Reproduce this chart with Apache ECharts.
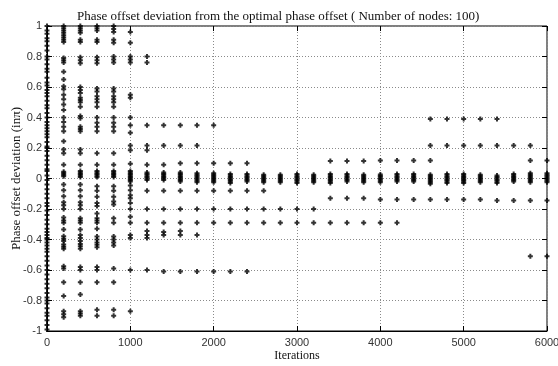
<!DOCTYPE html>
<html>
<head>
<meta charset="utf-8">
<script src="https://cdn.jsdelivr.net/npm/echarts@6/dist/echarts.min.js"></script>
<style>html,body{margin:0;padding:0;background:#fff}#c{width:558px;height:366px}</style>
</head>
<body>
<div id="c"></div>
<script>
const titleText = 'Phase offset deviation from the optimal phase offset ( Number of nodes: 100)';
const xName = 'Iterations';
const yName = 'Phase offset deviation (inπ)';
const xTicks = [0, 1000, 2000, 3000, 4000, 5000, 6000];
const yTicks = [-1, -0.8, -0.6, -0.4, -0.2, 0, 0.2, 0.4, 0.6, 0.8, 1];

const iterations = [0, 200, 400, 600, 800, 1000, 1200, 1400, 1600, 1800, 2000, 2200, 2400, 2600, 2800, 3000,
  3200, 3400, 3600, 3800, 4000, 4200, 4400, 4600, 4800, 5000, 5200, 5400, 5600, 5800, 6000];

const dev0 = [1, 0.97, 0.95, 0.92, 0.9, 0.87, 0.84, 0.8, 0.78, 0.75, 0.72, 0.7, 0.66, 0.63, 0.61, 0.58, 0.56, 0.54, 0.51,
  0.48, 0.46, 0.43, 0.4, 0.37, 0.35, 0.33, 0.31, 0.29, 0.27, 0.24, 0.21, 0.2, 0.18, 0.15, 0.12, 0.09, 0.06, 0.05, 0.02,
  -0.01, -0.04, -0.07, -0.1, -0.13, -0.16, -0.18, -0.21, -0.24, -0.27, -0.3, -0.33, -0.35, -0.37, -0.39, -0.4, -0.42,
  -0.44, -0.46, -0.48, -0.51, -0.54, -0.57, -0.6, -0.63, -0.66, -0.69, -0.72, -0.75, -0.78, -0.8, -0.82, -0.85, -0.88,
  -0.9, -0.93, -0.96, -0.99];
const dev200 = [1, 0.985, 0.97, 0.955, 0.94, 0.925, 0.91, 0.895, 0.79, 0.775, 0.76, 0.7, 0.65, 0.605, 0.585, 0.55, 0.52,
  0.485, 0.45, 0.4, 0.37, 0.34, 0.31, 0.245, 0.19, 0.165, 0.09, 0.045, 0.035, 0.025, 0.015, -0.04, -0.077, -0.116, -0.155,
  -0.175, -0.2, -0.256, -0.275, -0.29, -0.334, -0.378, -0.395, -0.41, -0.433, -0.447, -0.46, -0.575, -0.59, -0.68, -0.77,
  -0.87, -0.89, -0.91];
const dev400 = [1, 0.985, 0.97, 0.955, 0.91, 0.895, 0.795, 0.775, 0.755, 0.6, 0.58, 0.56, 0.53, 0.515, 0.5, 0.47, 0.41,
  0.395, 0.34, 0.325, 0.31, 0.19, 0.165, 0.09, 0.05, 0.04, 0.03, 0.02, 0.01, -0.04, -0.077, -0.116, -0.155, -0.175, -0.2,
  -0.26, -0.275, -0.29, -0.334, -0.37, -0.39, -0.41, -0.43, -0.445, -0.46, -0.58, -0.6, -0.68, -0.76, -0.87, -0.885, -0.9];
const dev600 = [1, 0.985, 0.97, 0.91, 0.895, 0.795, 0.775, 0.755, 0.59, 0.57, 0.54, 0.52, 0.5, 0.47, 0.4, 0.365, 0.34,
  0.31, 0.165, 0.09, 0.05, 0.04, 0.03, 0.02, 0.01, -0.05, -0.08, -0.12, -0.16, -0.18, -0.23, -0.26, -0.275, -0.29, -0.33,
  -0.38, -0.4, -0.42, -0.435, -0.45, -0.58, -0.6, -0.68, -0.86, -0.9];
const dev800 = [1, 0.98, 0.96, 0.91, 0.89, 0.8, 0.78, 0.76, 0.59, 0.57, 0.54, 0.52, 0.5, 0.47, 0.4, 0.365, 0.34, 0.31,
  0.165, 0.09, 0.05, 0.04, 0.03, 0.02, 0.01, -0.05, -0.08, -0.12, -0.15, -0.17, -0.26, -0.29, -0.38, -0.4, -0.42, -0.44,
  -0.59, -0.68, -0.86, -0.9];
const dev1000 = [0.96, 0.89, 0.8, 0.78, 0.76, 0.55, 0.53, 0.4, 0.35, 0.3, 0.216, 0.186, 0.096, 0.05, 0.04, 0.03, 0.02,
  0.01, 0, -0.01, -0.02, -0.046, -0.077, -0.11, -0.13, -0.16, -0.2, -0.25, -0.29, -0.37, -0.39, -0.6, -0.87];
const dev1200 = [0.8, 0.76, 0.35, 0.216, 0.186, 0.09, 0.04, 0.03, 0.02, 0.01, 0, -0.01, -0.08, -0.2, -0.29, -0.345,
  -0.37, -0.39, -0.6];
const dev1400 = [0.35, 0.216, 0.09, 0.04, 0.03, 0.02, 0.01, 0, -0.01, -0.08, -0.2, -0.29, -0.35, -0.37, -0.61];
const dev1600 = [0.35, 0.216, 0.1, 0.04, 0.03, 0.02, 0.01, 0, -0.01, -0.02, -0.08, -0.2, -0.29, -0.345, -0.37, -0.61];
const dev1800 = [0.35, 0.216, 0.1, 0.035, 0.025, 0.015, 0.005, -0.005, -0.015, -0.025, -0.08, -0.2, -0.29, -0.37, -0.61];
const dev2000 = [0.35, 0.1, 0.035, 0.025, 0.015, 0.005, -0.005, -0.015, -0.025, -0.08, -0.2, -0.29, -0.61];
const dev2200 = [0.1, 0.03, 0.02, 0.01, 0, -0.01, -0.02, -0.03, -0.08, -0.2, -0.29, -0.61];
const dev2400 = [0.1, 0.03, 0.02, 0.01, 0, -0.01, -0.02, -0.08, -0.2, -0.29, -0.61];
const dev2600 = [0.025, 0.015, 0.005, -0.005, -0.015, -0.025, -0.08, -0.2, -0.29];
const dev2800 = [0.025, 0.015, 0.005, -0.005, -0.015, -0.025, -0.2, -0.29];
const dev3000 = [0.03, 0.02, 0.01, 0, -0.01, -0.02, -0.03, -0.2, -0.29];
const dev3200 = [0.025, 0.015, 0.005, -0.005, -0.015, -0.025, -0.2, -0.29];
const dev3400 = [0.115, 0.03, 0.02, 0.01, 0, -0.01, -0.02, -0.03, -0.13, -0.29];
const dev3600 = [0.115, 0.03, 0.02, 0.01, 0, -0.01, -0.02, -0.13, -0.29];
const dev3800 = [0.115, 0.025, 0.015, 0.005, -0.005, -0.015, -0.025, -0.13, -0.29];
const dev4000 = [0.118, 0.026, 0.016, 0.006, -0.004, -0.014, -0.024, -0.138, -0.29];
const dev4200 = [0.118, 0.03, 0.02, 0.01, 0, -0.01, -0.02, -0.138, -0.29];
const dev4400 = [0.118, 0.03, 0.02, 0.01, 0, -0.01, -0.02, -0.138];
const dev4600 = [0.39, 0.216, 0.118, 0.025, 0.015, 0.005, -0.005, -0.015, -0.025, -0.035, -0.138];
const dev4800 = [0.39, 0.216, 0.03, 0.02, 0.01, 0, -0.01, -0.02, -0.03, -0.138];
const dev5000 = [0.39, 0.216, 0.03, 0.02, 0.01, 0, -0.01, -0.02, -0.03, -0.138];
const dev5200 = [0.39, 0.216, 0.025, 0.015, 0.005, -0.005, -0.015, -0.025, -0.138];
const dev5400 = [0.39, 0.216, 0.02, 0.01, 0, -0.01, -0.02, -0.03, -0.145];
const dev5600 = [0.216, 0.03, 0.02, 0.01, 0, -0.01, -0.02, -0.145];
const dev5800 = [0.216, 0.118, 0.035, 0.025, 0.015, 0.005, -0.005, -0.015, -0.025, -0.145, -0.51];
const dev6000 = [0.118, 0.035, 0.025, 0.015, 0.005, -0.005, -0.015, -0.025, -0.145, -0.51];

const deviations = [dev0, dev200, dev400, dev600, dev800, dev1000, dev1200, dev1400, dev1600, dev1800, dev2000,
  dev2200, dev2400, dev2600, dev2800, dev3000, dev3200, dev3400, dev3600, dev3800, dev4000, dev4200, dev4400,
  dev4600, dev4800, dev5000, dev5200, dev5400, dev5600, dev5800, dev6000];

const points = [];
iterations.forEach((it, i) => deviations[i].forEach(v => points.push([it, v])));

const chart = echarts.init(document.getElementById('c'), null, {renderer: 'canvas'});
const sans = 'Liberation Sans';
const serif = 'Liberation Serif';
const gridLine = {show: true, lineStyle: {color: '#8a8a8a', width: 1, type: [1, 2]}};
const baseLabel = {color: '#333', fontFamily: sans, fontSize: 11};

chart.setOption({
  animation: false,
  backgroundColor: '#fff',
  title: {
    text: titleText, left: 72, top: 5,
    textStyle: {fontFamily: serif, fontWeight: 'normal', fontSize: 13, color: '#111'}
  },
  grid: {left: 47, right: 11, top: 26, bottom: 35, containLabel: false, outerBoundsMode: 'none',
    show: true, borderColor: '#000', borderWidth: 1, backgroundColor: 'transparent'},
  xAxis: [{
    type: 'value', min: xTicks[0], max: xTicks[xTicks.length - 1], interval: 1000,
    name: xName, nameLocation: 'middle', nameGap: 19, nameMoveOverlap: false,
    nameTextStyle: {fontFamily: serif, fontSize: 12, color: '#111'},
    axisLine: {show: true, onZero: false, lineStyle: {color: '#000'}},
    axisTick: {show: true, inside: true, length: 5, lineStyle: {color: '#000'}},
    axisLabel: Object.assign({margin: 6, formatter: v => String(v)}, baseLabel),
    splitLine: gridLine
  }, {
    type: 'value', position: 'top', min: 0, max: 6000, interval: 1000,
    axisLine: {show: false, onZero: false}, axisLabel: {show: false}, splitLine: {show: false},
    axisTick: {show: true, inside: true, length: 5, lineStyle: {color: '#000'}}
  }],
  yAxis: [{
    type: 'value', min: yTicks[0], max: yTicks[yTicks.length - 1], interval: 0.2,
    name: yName, nameLocation: 'middle', nameGap: 24, nameRotate: 90, nameMoveOverlap: false,
    nameTextStyle: {fontFamily: serif, fontSize: 13, color: '#111'},
    axisLine: {show: true, onZero: false, lineStyle: {color: '#000'}},
    axisTick: {show: true, inside: true, length: 5, lineStyle: {color: '#000'}},
    axisLabel: Object.assign({margin: 5, formatter: v => String(+v.toFixed(1))}, baseLabel),
    splitLine: gridLine
  }, {
    type: 'value', position: 'right', min: -1, max: 1, interval: 0.2,
    axisLine: {show: false, onZero: false}, axisLabel: {show: false}, splitLine: {show: false},
    axisTick: {show: true, inside: true, length: 5, lineStyle: {color: '#000'}}
  }],
  series: [{
    type: 'scatter',
    data: points,
    symbol: 'path://M1.5,0H3.5V1.5H5V3.5H3.5V5H1.5V3.5H0V1.5H1.5Z',
    symbolSize: 5,
    itemStyle: {color: '#000'},
    clip: false,
    silent: true
  }]
});
</script>
</body>
</html>
